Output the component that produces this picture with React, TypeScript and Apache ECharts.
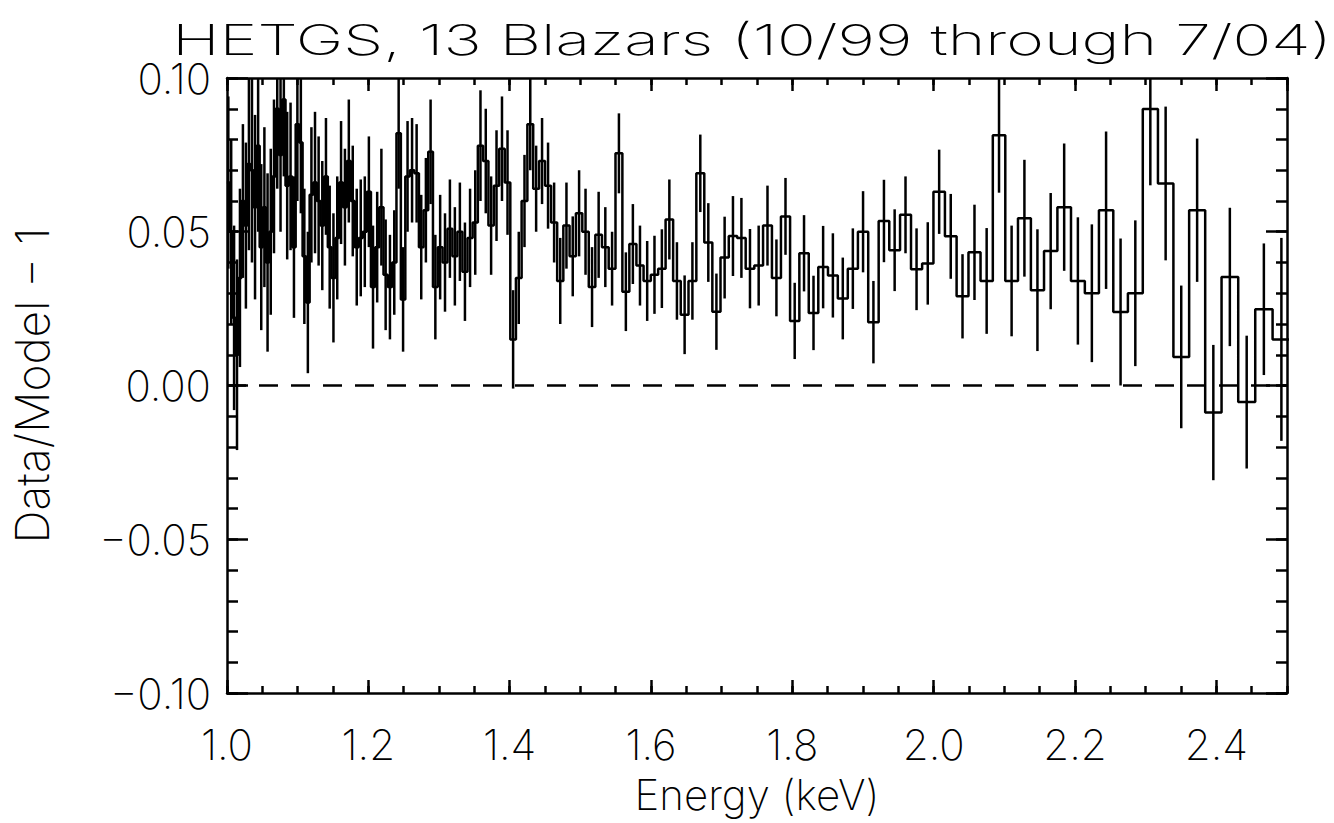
import React, { useEffect, useRef } from "react";
import * as echarts from "echarts";

const TITLE = "HETGS, 13 Blazars (10/99 through 7/04)";
const X_NAME = "Energy (keV)";
const Y_NAME = "Data/Model \u2212 1";
const X_MIN = 1.0;
const X_MAX = 2.5;
const Y_MIN = -0.1;
const Y_MAX = 0.1;
const X_MAJOR = 0.2;
const X_MINOR = 0.05;
const Y_MAJOR = 0.05;
const Y_MINOR = 0.01;

// Instrument wavelength grid (Angstrom), bins of constant width
const HC = 12.398;
const LAMBDA_START = 12.4;
const LAMBDA_STEP = 0.05;

// Residuals (Data/Model - 1), one per bin, in order of increasing energy
const RESID = [
  0.066, 0.05, 0.022, 0.01, 0.035, 0.06, 0.052, 0.072, 0.07, 0.058,
  0.078, 0.045, 0.058, 0.04, 0.05, 0.068, 0.09, 0.075, 0.093, 0.065,
  0.068, 0.045, 0.085, 0.079, 0.042, 0.027, 0.062, 0.066, 0.06, 0.052,
  0.068, 0.045, 0.035, 0.048, 0.066, 0.058, 0.073, 0.06, 0.045, 0.048,
  0.05, 0.063, 0.032, 0.045, 0.058, 0.036, 0.032, 0.04, 0.082, 0.028,
  0.068, 0.07, 0.069, 0.045, 0.057, 0.076, 0.032, 0.045, 0.04, 0.051,
  0.042, 0.05, 0.037, 0.048, 0.053, 0.078, 0.073, 0.052, 0.065, 0.077,
  0.066, 0.015, 0.035, 0.06, 0.085, 0.064, 0.073, 0.065, 0.053, 0.034,
  0.052, 0.042, 0.056, 0.05, 0.032, 0.049, 0.045, 0.038, 0.0755, 0.0305,
  0.046, 0.039, 0.034, 0.036, 0.038, 0.054, 0.034, 0.023, 0.034, 0.069,
  0.0465, 0.024, 0.0416, 0.0486, 0.048, 0.038, 0.039, 0.052, 0.035, 0.055,
  0.021, 0.043, 0.0236, 0.0385, 0.0358, 0.0283, 0.038, 0.05, 0.0206, 0.0535,
  0.044, 0.0555, 0.0378, 0.0397, 0.063, 0.0485, 0.029, 0.0433, 0.034, 0.0814,
  0.034, 0.0544, 0.031, 0.0437, 0.058, 0.034, 0.03, 0.057, 0.0239, 0.03,
  0.0899, 0.0657, 0.0093, 0.057, -0.0088, 0.0353, -0.0054, 0.0248, 0.015,
];

// 1-sigma errors, one per bin
const ERR = [
  0.028, 0.03, 0.03, 0.031, 0.029, 0.025, 0.027, 0.028, 0.03, 0.03,
  0.028, 0.027, 0.026, 0.029, 0.027, 0.025, 0.026, 0.025, 0.025, 0.024,
  0.024, 0.023, 0.025, 0.023, 0.022, 0.023, 0.022, 0.023, 0.021, 0.021,
  0.019, 0.02, 0.021, 0.02, 0.02, 0.019, 0.02, 0.018, 0.019, 0.019,
  0.018, 0.018, 0.02, 0.018, 0.019, 0.018, 0.017, 0.017, 0.018, 0.017,
  0.018, 0.017, 0.016, 0.017, 0.017, 0.017, 0.017, 0.017, 0.016, 0.016,
  0.016, 0.016, 0.016, 0.016, 0.017, 0.018, 0.017, 0.016, 0.018, 0.017,
  0.017, 0.016, 0.015, 0.015, 0.015, 0.014, 0.014, 0.014, 0.013, 0.014,
  0.014, 0.013, 0.014, 0.014, 0.013, 0.014, 0.013, 0.012, 0.013, 0.0128,
  0.013, 0.013, 0.013, 0.0127, 0.0128, 0.013, 0.0126, 0.0128, 0.0126, 0.0126,
  0.0128, 0.0124, 0.0133, 0.013, 0.013, 0.0129, 0.013, 0.013, 0.0125, 0.0125,
  0.0124, 0.0124, 0.0121, 0.0134, 0.0137, 0.0133, 0.0131, 0.0132, 0.0134, 0.0134,
  0.0133, 0.0125, 0.0133, 0.0134, 0.0137, 0.0138, 0.0137, 0.0155, 0.0172, 0.0187,
  0.018, 0.019, 0.0198, 0.0189, 0.0207, 0.0207, 0.0224, 0.0256, 0.0239, 0.0237,
  0.0248, 0.025, 0.0232, 0.0233, 0.022, 0.0225, 0.0216, 0.0214, 0.033,
];

const FONT = "Inter, 'DejaVu Sans', sans-serif";
const LW = 2.5;

function binEdgeEnergy(i: number): number {
  return HC / (LAMBDA_START - i * LAMBDA_STEP);
}

function fmtY(v: number): string {
  if (Math.abs(v) < 1e-9) return "0.00";
  return (v < 0 ? "\u2212" : "") + Math.abs(v).toFixed(2);
}

export default function App() {
  const ref = useRef<HTMLDivElement>(null);

  useEffect(() => {
    if (!ref.current) return;
    const chart = echarts.init(ref.current, undefined, { renderer: "svg" });

    const n = RESID.length;
    const stepData: number[][] = [];
    const errData: number[][] = [];
    for (let i = 0; i < n; i++) {
      const lo = binEdgeEnergy(i);
      const hi = binEdgeEnergy(i + 1);
      stepData.push([lo, RESID[i]]);
      stepData.push([hi, RESID[i]]);
      const c = HC / (LAMBDA_START - (i + 0.5) * LAMBDA_STEP);
      errData.push([c, RESID[i] - ERR[i], RESID[i] + ERR[i]]);
    }

    const titleSize = 42;
    const titleFont = `200 ${titleSize}px ${FONT}`;
    let scaleX = 1.2;
    try {
      const cv = document.createElement("canvas").getContext("2d");
      if (cv) {
        cv.font = titleFont;
        const w = cv.measureText(TITLE).width;
        if (w > 0) scaleX = 1160 / w;
      }
    } catch (e) {}

    const gridBox = { left: 227, right: 47, top: 78, bottom: 130 };
    const lineStyle = { color: "#000", width: LW };
    const labelStyle = {
      color: "#000",
      fontFamily: FONT,
      fontWeight: 200 as any,
      fontSize: 42,
    };

    const xMajor = (pos: string, labels: boolean) => ({
      type: "value",
      gridIndex: 0,
      position: pos,
      min: X_MIN,
      max: X_MAX,
      interval: X_MAJOR,
      axisLine: { show: true, onZero: false, lineStyle },
      axisTick: { show: true, inside: true, length: 13, lineStyle },
      axisLabel: labels
        ? {
            show: true,
            margin: 30,
            showMaxLabel: false,
            formatter: (v: number) => v.toFixed(1),
            ...labelStyle,
          }
        : { show: false },
      splitLine: { show: false },
      name: labels ? X_NAME : "",
      nameLocation: "middle",
      nameGap: 80,
      nameTextStyle: { ...labelStyle, fontSize: 42 },
    });
    const xMinor = (pos: string) => ({
      type: "value",
      gridIndex: 1,
      position: pos,
      min: X_MIN,
      max: X_MAX,
      interval: X_MINOR,
      axisLine: { show: false, onZero: false },
      axisTick: { show: true, inside: true, length: 7, lineStyle },
      axisLabel: { show: false },
      splitLine: { show: false },
    });
    const yMajor = (pos: string, labels: boolean) => ({
      type: "value",
      gridIndex: 0,
      position: pos,
      min: Y_MIN,
      max: Y_MAX,
      interval: Y_MAJOR,
      axisLine: { show: true, onZero: false, lineStyle },
      axisTick: { show: true, inside: true, length: 21, lineStyle },
      axisLabel: labels
        ? { show: true, margin: 16, formatter: fmtY, ...labelStyle }
        : { show: false },
      splitLine: { show: false },
      name: labels ? Y_NAME : "",
      nameLocation: "middle",
      nameRotate: 90,
      nameGap: 172,
      nameTextStyle: { ...labelStyle, fontSize: 46 },
    });
    const yMinor = (pos: string) => ({
      type: "value",
      gridIndex: 1,
      position: pos,
      min: Y_MIN,
      max: Y_MAX,
      interval: Y_MINOR,
      axisLine: { show: false, onZero: false },
      axisTick: { show: true, inside: true, length: 11, lineStyle },
      axisLabel: { show: false },
      splitLine: { show: false },
    });

    chart.setOption({
      animation: false,
      backgroundColor: "#fff",
      grid: [{ ...gridBox }, { ...gridBox }],
      graphic: [
        {
          type: "text",
          x: 752,
          y: 40,
          scaleX,
          style: {
            text: TITLE,
            fill: "#000",
            font: titleFont,
            textAlign: "center",
            textVerticalAlign: "middle",
          },
        },
      ],
      xAxis: [xMajor("bottom", true), xMajor("top", false), xMinor("bottom"), xMinor("top")],
      yAxis: [yMajor("left", true), yMajor("right", false), yMinor("left"), yMinor("right")],
      series: [
        {
          type: "line",
          xAxisIndex: 0,
          yAxisIndex: 0,
          data: [
            [X_MIN, 0],
            [X_MAX, 0],
          ],
          symbol: "none",
          lineStyle: { color: "#000", width: LW, type: [19, 13] },
          silent: true,
        },
        {
          type: "line",
          xAxisIndex: 0,
          yAxisIndex: 0,
          data: stepData,
          symbol: "none",
          clip: true,
          lineStyle: { color: "#000", width: LW },
          silent: true,
        },
        {
          type: "custom",
          xAxisIndex: 0,
          yAxisIndex: 0,
          data: errData,
          encode: { x: 0, y: [1, 2] },
          silent: true,
          renderItem: (params: any, api: any) => {
            const xv = api.value(0);
            const p1 = api.coord([xv, api.value(1)]);
            const p2 = api.coord([xv, api.value(2)]);
            const cs = params.coordSys;
            if (p1[0] < cs.x || p1[0] > cs.x + cs.width) return null;
            const clampY = (y: number) => Math.min(Math.max(y, cs.y), cs.y + cs.height);
            return {
              type: "line",
              shape: { x1: p1[0], y1: clampY(p1[1]), x2: p2[0], y2: clampY(p2[1]) },
              style: { stroke: "#000", lineWidth: LW },
            };
          },
        },
      ],
    });

    return () => chart.dispose();
  }, []);

  return (
    <div
      ref={ref}
      style={{ position: "fixed", left: 0, top: 0, width: 1334, height: 823, background: "#fff" }}
    />
  );
}
